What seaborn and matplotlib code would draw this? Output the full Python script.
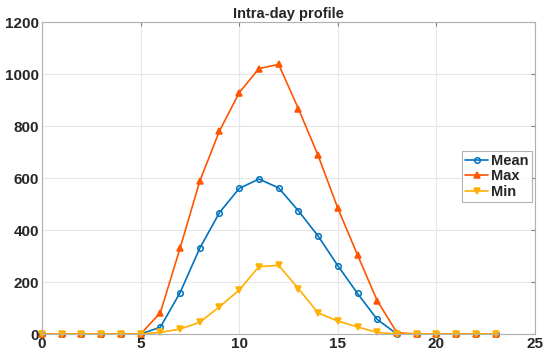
import numpy as np
import pandas as pd
import seaborn as sns
import matplotlib
matplotlib.use("Agg")
import matplotlib.pyplot as plt

hours = list(range(24))
mean_vals = [0, 0, 0, 0, 0, 0, 26, 159, 330, 467, 560, 596, 562, 474, 377, 263, 156, 56, 0, 0, 0, 0, 0, 0]
max_vals = [0, 0, 0, 0, 0, 0, 82, 330, 588, 781, 928, 1021, 1037, 867, 687, 484, 304, 128, 5, 0, 0, 0, 0, 0]
min_vals = [0, 0, 0, 0, 0, 0, 6, 19, 45, 105, 169, 259, 264, 175, 81, 50, 27, 6, 0, 0, 0, 0, 0, 0]

series = {"Mean": mean_vals, "Max": max_vals, "Min": min_vals}
colors = {"Mean": "#0072BD", "Max": "#FF5500", "Min": "#FFB000"}
markers = {"Mean": "o", "Max": "^", "Min": "v"}

sns.set_style("whitegrid")
plt.rcParams["font.family"] = ["Liberation Sans", "DejaVu Sans"]
plt.rcParams["font.weight"] = "bold"

fig = plt.figure(figsize=(5.5, 3.59), dpi=100)
ax = fig.add_axes([0.0764, 0.0696, 0.8963, 0.8691])

for name, vals in series.items():
    df = pd.DataFrame({"hour": hours, "value": vals})
    is_open = name == "Mean"
    sns.lineplot(data=df, x="hour", y="value", ax=ax, color=colors[name],
                 marker=markers[name], markersize=4 if is_open else 5,
                 markerfacecolor="none" if is_open else colors[name],
                 markeredgecolor=colors[name], markeredgewidth=1.1,
                 linewidth=1.2, label=name, clip_on=False)

ax.set_xlim(0, 25)
ax.set_ylim(0, 1200)
ax.set_xticks([0, 5, 10, 15, 20, 25])
ax.set_yticks([0, 200, 400, 600, 800, 1000, 1200])
ax.set_xlabel("")
ax.set_ylabel("")
ax.set_title("Intra-day profile", fontsize=10.5, fontweight="bold", pad=3)
ax.grid(True, color="#e6e6e6", linewidth=0.8)
for sp in ax.spines.values():
    sp.set_color("#b0b0b0")
    sp.set_linewidth(0.8)
ax.tick_params(axis="both", direction="in", length=3, color="#808080",
               labelsize=11, top=True, right=True, labeltop=False, labelright=False,
               pad=2)
for lbl in ax.get_xticklabels() + ax.get_yticklabels():
    lbl.set_fontweight("bold")

leg = ax.legend(loc="center left", bbox_to_anchor=(0.852, 0.505), frameon=True,
                fancybox=False, edgecolor="#a0a0a0", fontsize=10.5, handlelength=1.6,
                handletextpad=0.2, borderpad=0.2, labelspacing=0.1, borderaxespad=0)
leg.get_frame().set_linewidth(0.8)
for t in leg.get_texts():
    t.set_fontweight("bold")

fig.savefig("out.png", dpi=100)
